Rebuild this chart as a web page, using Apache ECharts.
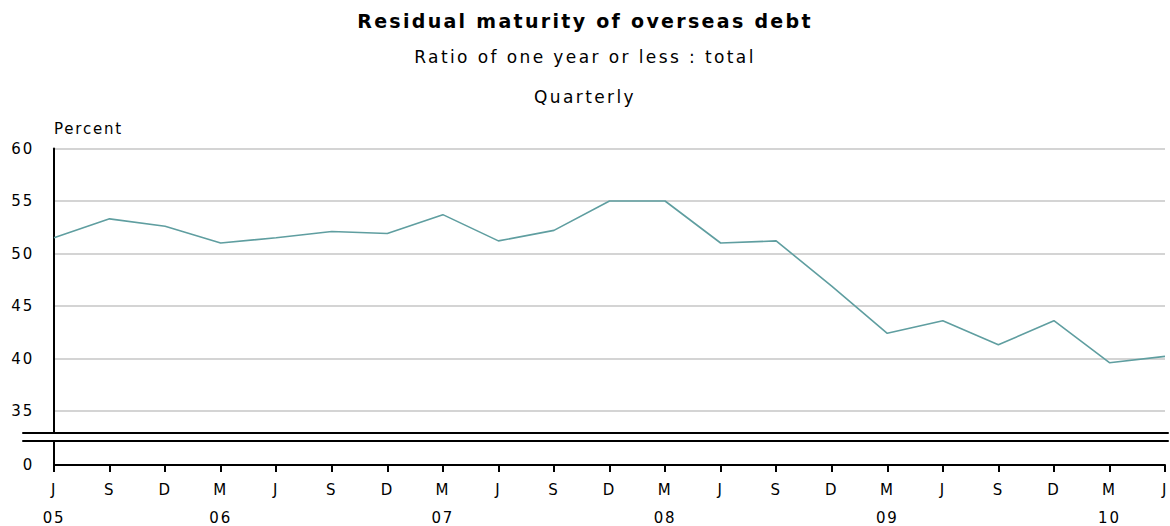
<!DOCTYPE html>
<html>
<head>
<meta charset="utf-8">
<script src="https://cdn.jsdelivr.net/npm/echarts@6/dist/echarts.min.js"></script>
<style>
  html, body { margin: 0; padding: 0; background: #ffffff; }
  #chart { width: 1170px; height: 526px; }
  /* wide, airy lettering; refined per font size once the chart has drawn */
  #chart text { letter-spacing: 0.13em; }
</style>
</head>
<body>
<div id="chart"></div>
<script>
// Quarter-end periods, June 2005 to June 2010
const periods = [
  'Jun 2005', 'Sep 2005', 'Dec 2005',
  'Mar 2006', 'Jun 2006', 'Sep 2006', 'Dec 2006',
  'Mar 2007', 'Jun 2007', 'Sep 2007', 'Dec 2007',
  'Mar 2008', 'Jun 2008', 'Sep 2008', 'Dec 2008',
  'Mar 2009', 'Jun 2009', 'Sep 2009', 'Dec 2009',
  'Mar 2010', 'Jun 2010'
];

// Tick labels: month initial on the first row, two-digit year on the second
const monthLabels = ['J', 'S', 'D', 'M', 'J', 'S', 'D', 'M', 'J', 'S', 'D',
                     'M', 'J', 'S', 'D', 'M', 'J', 'S', 'D', 'M', 'J'];
const yearLabels  = ['05', '', '', '06', '', '', '', '07', '', '', '',
                     '08', '', '', '', '09', '', '', '', '10', ''];

// Debt with residual maturity of one year or less, percent of total
const shortTermShare = [51.5, 53.3, 52.6, 51.0, 51.5, 52.1, 51.9, 53.7, 51.2, 52.2, 55.0,
                        55.0, 51.0, 51.2, 46.9, 42.4, 43.6, 41.3, 43.6, 39.6, 40.2];

// Value scale of the upper panel
const yMin = 35;
const yMax = 60;
const yStep = 5;

const FONT = '"DejaVu Sans", Verdana, sans-serif';
const INK = '#000000';
const GRID_GREY = '#d4d4d4';
const LINE_COLOUR = '#5f9ea0';

// letter spacing (px) used for each font size
const SPACING_BY_SIZE = { 19: 2.3, 17: 2.4, 15: 1.8 };

const axisStroke = { color: INK, width: 2 };
const hiddenBits = {
  axisTick: { show: false },
  axisLabel: { show: false },
  splitLine: { show: false }
};

// grids keep exactly the box they are given
const fixedBox = { containLabel: false, outerBoundsMode: 'none' };

const chartDom = document.getElementById('chart');
const chart = echarts.init(chartDom, null, { renderer: 'svg' });

const option = {
  animation: false,
  backgroundColor: '#ffffff',
  title: [
    {
      text: 'Residual maturity of overseas debt',
      left: 'center', top: 8, padding: 0,
      textStyle: { fontFamily: FONT, fontSize: 19, fontWeight: 'bold', color: INK, lineHeight: 26 }
    },
    {
      text: 'Ratio of one year or less : total',
      left: 'center', top: 46, padding: 0,
      textStyle: { fontFamily: FONT, fontSize: 17, fontWeight: 'normal', color: INK, lineHeight: 22 }
    },
    {
      text: 'Quarterly',
      left: 'center', top: 86, padding: 0,
      textStyle: { fontFamily: FONT, fontSize: 17, fontWeight: 'normal', color: INK, lineHeight: 22 }
    },
    {
      text: 'Percent',
      left: 54, top: 119, padding: 0,
      textStyle: { fontFamily: FONT, fontSize: 15, fontWeight: 'normal', color: INK, lineHeight: 20 }
    }
  ],
  grid: [
    // plotting area, 35 to 60
    Object.assign({ left: 54, right: 5, top: 148.5, height: 262.5 }, fixedBox),
    // left axis spine down to the scale break
    Object.assign({ left: 54, right: 5, top: 148.5, height: 284.5 }, fixedBox),
    // double rule marking the scale break
    Object.assign({ left: 23, right: 2, top: 433, height: 8 }, fixedBox),
    // zero baseline strip carrying the time axis
    Object.assign({ left: 54, right: 5, top: 441, height: 24 }, fixedBox)
  ],
  xAxis: [
    { gridIndex: 0, type: 'category', data: periods, boundaryGap: false, show: false },
    { gridIndex: 1, type: 'value', min: 0, max: 1, show: false },
    Object.assign({ gridIndex: 2, type: 'value', position: 'top', min: 0, max: 1,
      axisLine: { show: true, onZero: false, lineStyle: axisStroke } }, hiddenBits),
    Object.assign({ gridIndex: 2, type: 'value', position: 'bottom', min: 0, max: 1,
      axisLine: { show: true, onZero: false, lineStyle: axisStroke } }, hiddenBits),
    {
      gridIndex: 3, type: 'category', data: periods, boundaryGap: false, position: 'bottom',
      axisLine: { show: true, onZero: false, lineStyle: axisStroke },
      axisTick: { show: true, inside: false, length: 7, lineStyle: axisStroke },
      axisLabel: {
        interval: 0, margin: 11, lineHeight: 28,
        fontFamily: FONT, fontSize: 15, color: INK,
        formatter: (value, index) => monthLabels[index] + '\n' + (yearLabels[index] || ' ')
      },
      splitLine: { show: false }
    }
  ],
  yAxis: [
    {
      gridIndex: 0, type: 'value', min: yMin, max: yMax, interval: yStep,
      axisLine: { show: false },
      axisTick: { show: false },
      axisLabel: { margin: 20, fontFamily: FONT, fontSize: 15, color: INK, verticalAlign: 'middle' },
      splitLine: { show: true, lineStyle: { color: GRID_GREY, width: 2 } }
    },
    Object.assign({ gridIndex: 1, type: 'value', min: 0, max: 1,
      axisLine: { show: true, onZero: false, lineStyle: axisStroke } }, hiddenBits),
    { gridIndex: 2, type: 'value', min: 0, max: 1, show: false },
    {
      gridIndex: 3, type: 'value', min: 0, max: 1, interval: 1,
      axisLine: { show: true, onZero: false, lineStyle: axisStroke },
      axisTick: { show: false },
      axisLabel: {
        margin: 20, fontFamily: FONT, fontSize: 15, color: INK, verticalAlign: 'middle',
        formatter: v => (v === 0 ? '0' : '')
      },
      splitLine: { show: false }
    }
  ],
  series: [
    {
      name: 'Ratio of one year or less : total',
      type: 'line',
      xAxisIndex: 0,
      yAxisIndex: 0,
      data: shortTermShare,
      symbol: 'none',
      lineStyle: { color: LINE_COLOUR, width: 1.6 },
      z: 5
    }
  ]
};

function spaceLetters() {
  chartDom.querySelectorAll('text').forEach(t => {
    const size = Math.round(parseFloat(getComputedStyle(t).fontSize));
    if (SPACING_BY_SIZE[size] !== undefined) {
      t.style.letterSpacing = SPACING_BY_SIZE[size] + 'px';
    }
  });
}

chart.on('finished', spaceLetters);
chart.setOption(option);
spaceLetters();
</script>
</body>
</html>
